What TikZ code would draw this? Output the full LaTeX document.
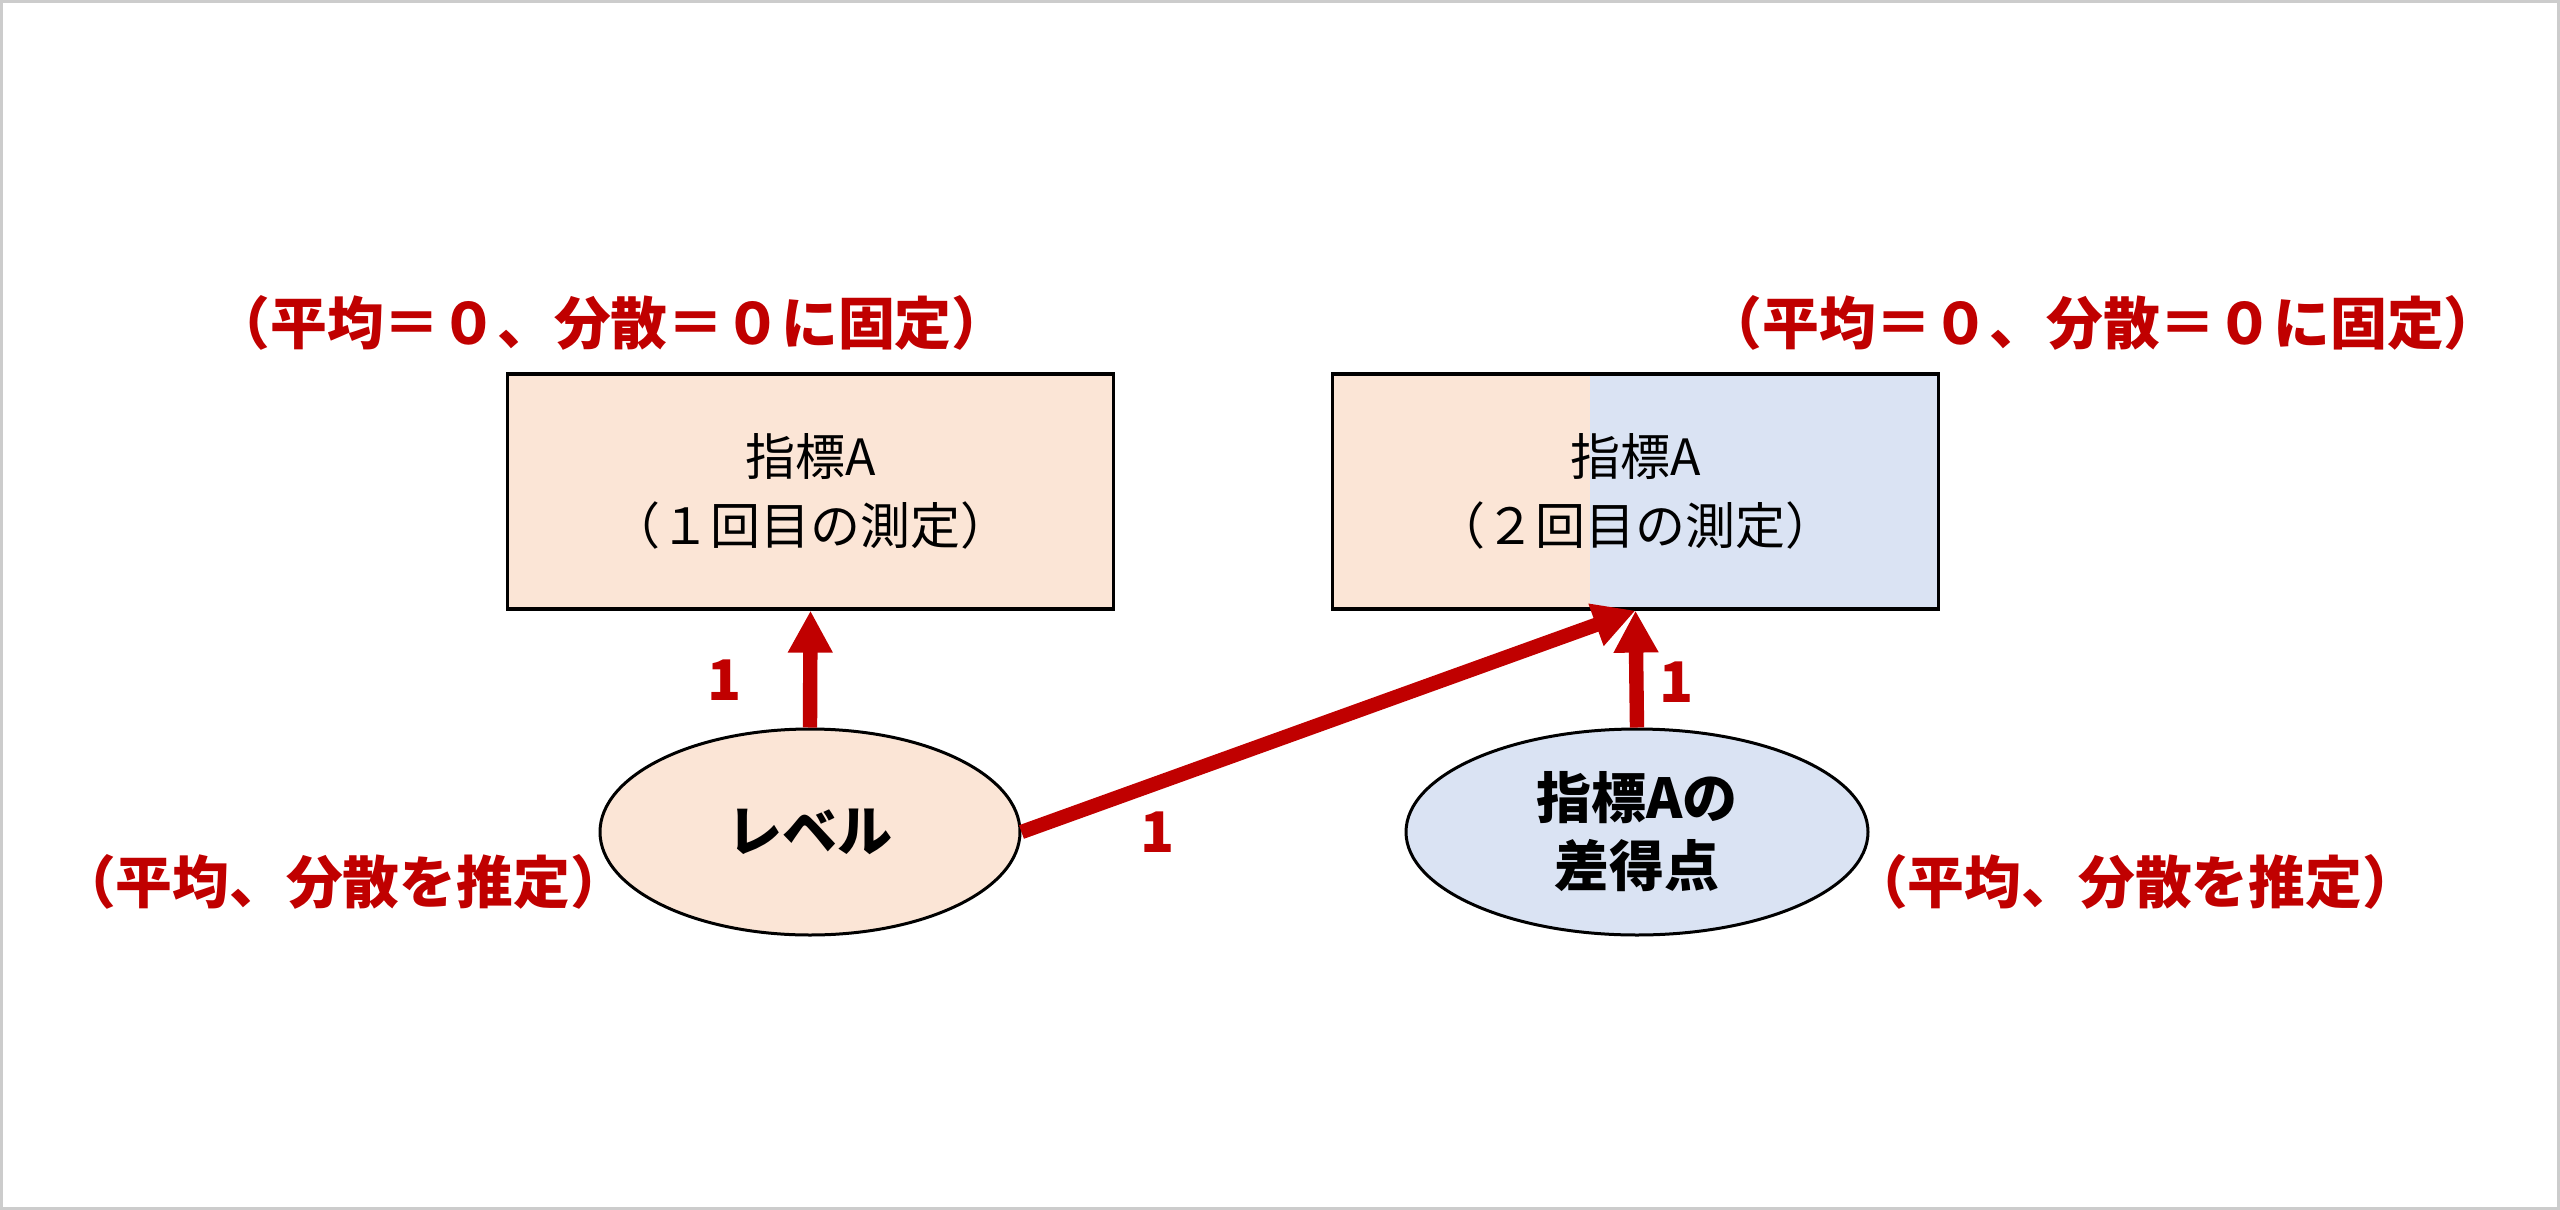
\documentclass[tikz,border=0pt]{standalone}
\usepackage{fontspec}
\newfontfamily\jp{Noto Sans CJK JP}
\usetikzlibrary{shapes.geometric,arrows.meta}
\definecolor{myred}{HTML}{C00000}
\definecolor{peach}{HTML}{FBE5D6}
\definecolor{paleblue}{HTML}{DAE3F3}
\definecolor{frame}{HTML}{CCCCCC}
\begin{document}
\begin{tikzpicture}[x=0.25pt,y=-0.25pt,
  redlbl/.style={text=myred,font=\jp\bfseries\fontsize{14.2}{16}\selectfont,inner sep=0pt},
  numlbl/.style={text=myred,font=\jp\bfseries\fontsize{14}{16}\selectfont,inner sep=0pt},
  obsbox/.style={draw=black,line width=0.8pt,rectangle,minimum width=151.5pt,minimum height=58.75pt,
    inner sep=0pt,align=center,font=\jp\fontsize{12.5}{17.25}\selectfont},
  latent/.style={draw=black,line width=0.75pt,ellipse,inner sep=0pt,align=center,
    font=\jp\bfseries\fontsize{13.75}{17}\selectfont},
  path/.style={draw=myred,line width=3.6pt,-{Triangle[length=10.5pt,width=10.5pt]}}
]
\useasboundingbox (0,0) rectangle (2560,1210);
\draw[frame,line width=0.75pt] (1.5,1.5) rectangle (2558.5,1208.5);

% left observed box
\node[obsbox,fill=peach] (b1) at (810.5,491.5) {指標A\\（１回目の測定）};

% right observed box (two-tone)
\fill[peach] (1332,374) rectangle (1590,609);
\fill[paleblue] (1590,374) rectangle (1939,609);
\node[obsbox] (b2) at (1635.5,491.5) {指標A\\（２回目の測定）};

% latent variables
\node[latent,fill=peach,minimum width=105pt,minimum height=51.5pt] (lev) at (810,832) {レベル};
\node[latent,fill=paleblue,minimum width=115.5pt,minimum height=51.5pt] (dif) at (1637,832) {指標Aの\\差得点};

% paths
\draw[path] (lev.north) -- (b1.south);
\draw[path] (lev.east) -- (b2.south);
\draw[path] (dif.north) -- (b2.south);

% path labels
\node[numlbl] (l1) at (725,680) {1};
\node[numlbl] (l2) at (1158,832) {1};
\node[numlbl] (l3) at (1677,682) {1};

% annotations
\node[redlbl] (t1) at (611,323) {（平均＝０、分散＝０に固定）};
\node[redlbl] (t2) at (2103,323) {（平均＝０、分散＝０に固定）};
\node[redlbl] (t3) at (343,882) {（平均、分散を推定）};
\node[redlbl] (t4) at (2135,882) {（平均、分散を推定）};
\end{tikzpicture}
\end{document}
